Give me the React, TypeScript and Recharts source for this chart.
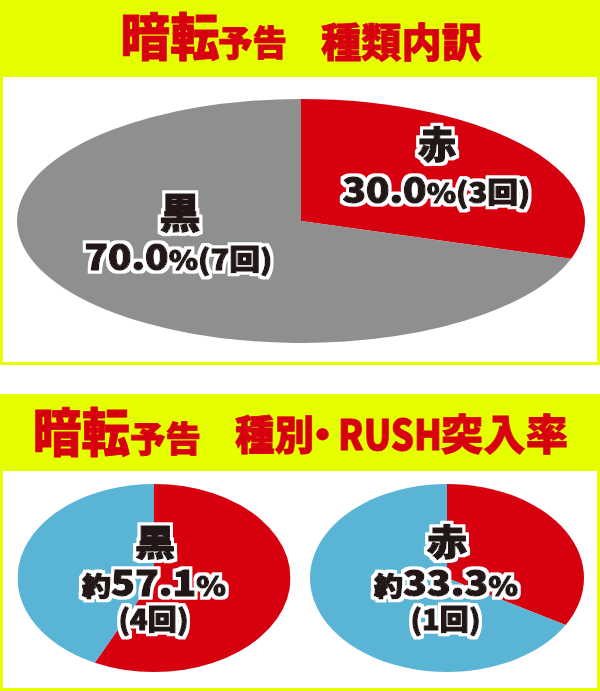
import { PieChart, Pie, Cell } from 'recharts';

// 暗転予告 種類内訳
const typeNames = ['赤', '黒'];
const typeCounts = [3, 7];

// 暗転予告 種別・RUSH突入率
const rushNames = ['黒', '赤'];
const rushHits = [4, 1];
const rushTotals = [7, 3];

const YELLOW = '#e5ff00';
const RED = '#d7000f';
const GRAY = '#8f8f90';
const BLUE = '#5ab4d6';
const INK = '#231815';

const CJK = '"Noto Sans CJK JP", sans-serif';

type Slice = { name: string; value: number };

function EllipsePie({ cx, cy, rx, ry, data, colors }: {
  cx: number; cy: number; rx: number; ry: number; data: Slice[]; colors: string[];
}) {
  const size = ry * 2;
  return (
    <div
      style={{
        position: 'absolute',
        left: cx - ry,
        top: cy - ry,
        width: size,
        height: size,
        transform: `scaleX(${rx / ry})`,
        transformOrigin: '50% 50%',
      }}
    >
      <PieChart width={size} height={size} margin={{ top: 0, right: 0, bottom: 0, left: 0 }}>
        <Pie
          data={data}
          dataKey="value"
          nameKey="name"
          cx="50%"
          cy="50%"
          outerRadius={ry}
          startAngle={90}
          endAngle={-270}
          stroke="none"
          isAnimationActive={false}
        >
          {data.map((d, i) => (
            <Cell key={d.name} fill={colors[i]} stroke="none" />
          ))}
        </Pie>
      </PieChart>
    </div>
  );
}

type Seg = { t: string; size: number };

// outlined label line; width = advance width to fit (glyphs are stretched)
function Line({ x, y, width, segs }: { x: number; y: number; width: number; segs: Seg[] }) {
  return (
    <text
      x={x}
      y={y}
      textAnchor="middle"
      textLength={width}
      lengthAdjust="spacingAndGlyphs"
      fontFamily={CJK}
      fontWeight={900}
      fill={INK}
      stroke={INK}
      strokeWidth={1.3}
      strokeLinejoin="round"
      filter="url(#halo)"
    >
      {segs.map((s, i) => (
        <tspan key={i} fontSize={s.size}>
          {s.t}
        </tspan>
      ))}
    </text>
  );
}

const pct = (a: number, b: number) => ((a / b) * 100).toFixed(1);

export default function App() {
  const typeTotal = typeCounts.reduce((a, b) => a + b, 0);
  const typeData = typeNames.map((n, i) => ({ name: n, value: typeCounts[i] }));
  const rushData = rushNames.map((n, i) => [
    { name: '突入', value: rushHits[i] },
    { name: '非突入', value: rushTotals[i] - rushHits[i] },
  ]);

  const numLine = (count: number, total: number) => [
    { t: pct(count, total), size: 35 },
    { t: '%', size: 27 },
    { t: `(${count}回)`, size: 28 },
  ];

  return (
    <div style={{ position: 'relative', width: 600, height: 691, background: '#fff', overflow: 'hidden' }}>
      <style>{'body{margin:0}'}</style>

      <div style={{ position: 'absolute', left: 0, top: 0, width: 600, height: 365, background: YELLOW }} />
      <div style={{ position: 'absolute', left: 3, top: 77, width: 594, height: 285, background: '#fff' }} />
      <div style={{ position: 'absolute', left: 0, top: 394, width: 600, height: 297, background: YELLOW }} />
      <div style={{ position: 'absolute', left: 3, top: 471, width: 594, height: 217, background: '#fff' }} />

      <EllipsePie cx={301} cy={221} rx={284} ry={122} data={typeData} colors={[RED, GRAY]} />
      <EllipsePie cx={153.5} cy={578} rx={136.5} ry={94} data={rushData[0]} colors={[RED, BLUE]} />
      <EllipsePie cx={447} cy={578} rx={137} ry={94} data={rushData[1]} colors={[RED, BLUE]} />

      <svg
        width={600}
        height={691}
        style={{ position: 'absolute', left: 0, top: 0, pointerEvents: 'none' }}
      >
        <defs>
          <filter id="halo" x="-20%" y="-40%" width="140%" height="180%">
            <feMorphology in="SourceAlpha" operator="dilate" radius={3} result="grow" />
            <feFlood floodColor="#fff" />
            <feComposite in2="grow" operator="in" result="white" />
            <feMerge>
              <feMergeNode in="white" />
              <feMergeNode in="SourceGraphic" />
            </feMerge>
          </filter>
        </defs>

        <g fill={RED} stroke={RED} strokeWidth={0.8} fontFamily={CJK} fontWeight={900}>
          <text x={120.5} y={56} fontSize={51} textLength={99} lengthAdjust="spacingAndGlyphs">暗転</text>
          <text x={218} y={56} fontSize={35} textLength={69} lengthAdjust="spacingAndGlyphs">予告</text>
          <text x={321} y={57} fontSize={40} textLength={161} lengthAdjust="spacingAndGlyphs">種類内訳</text>

          <text x={33} y={452} fontSize={52} textLength={97} lengthAdjust="spacingAndGlyphs">暗転</text>
          <text x={130} y={452} fontSize={35} textLength={71} lengthAdjust="spacingAndGlyphs">予告</text>
          <text x={235} y={450} fontSize={41} textLength={79} lengthAdjust="spacingAndGlyphs">種別</text>
          <text x={322.5} y={450} fontSize={41} textAnchor="middle">・</text>
          <text x={338} y={450} fontSize={41} textLength={104} lengthAdjust="spacingAndGlyphs">RUSH</text>
          <text x={441} y={450} fontSize={42} textLength={127} lengthAdjust="spacingAndGlyphs">突入率</text>
        </g>

        <Line x={437} y={159} width={38} segs={[{ t: typeNames[0], size: 37 }]} />
        <Line x={436.5} y={203} width={188} segs={numLine(typeCounts[0], typeTotal)} />
        <Line x={180} y={228} width={41} segs={[{ t: typeNames[1], size: 41 }]} />
        <Line x={178.5} y={270} width={188} segs={numLine(typeCounts[1], typeTotal)} />

        {[154, 446].map((x, i) => (
          <g key={rushNames[i]}>
            <Line x={x + 1} y={556} width={40} segs={[{ t: rushNames[i], size: 36 }]} />
            <Line
              x={x}
              y={596}
              width={144}
              segs={[
                { t: '約', size: 26 },
                { t: pct(rushHits[i], rushTotals[i]), size: 35 },
                { t: '%', size: 27 },
              ]}
            />
            <Line x={x - 0.5} y={630} width={70} segs={[{ t: `(${rushHits[i]}回)`, size: 28 }]} />
          </g>
        ))}
      </svg>
    </div>
  );
}
